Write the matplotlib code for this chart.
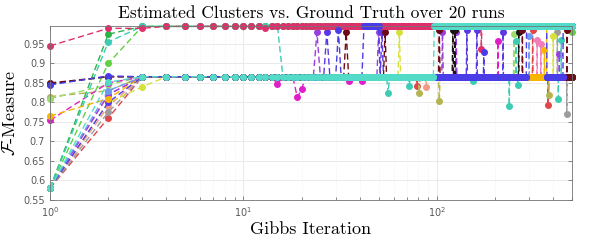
import numpy as np
import matplotlib
matplotlib.use('Agg')
import matplotlib.pyplot as plt
from matplotlib.ticker import FixedLocator, LogLocator, NullFormatter

# data
n_iter = 500
hi = 0.995
lo = 0.866

run_colors = ['#F09A88', '#E0454A', '#9C9C9C', '#B4B450', '#9ADC6E',
              '#D6E03C', '#F07CB8', '#E01EC8', '#9A3EE0', '#5A38E6',
              '#6C9CF0', '#1C1414', '#60D040', '#2DB34A', '#3CCCB4',
              '#6E0A16', '#F7B500', '#E0306C', '#4A3CE6', '#52DCC8']

# values at the first iterations
run_start = [[0.58, 0.79], [0.58, 0.76], [0.58, 0.775], [0.815, 0.83], [0.81, 0.845],
             [0.58, 0.80, 0.84], [0.58, 0.82], [0.754, 0.85], [0.58, 0.82], [0.58, 0.80],
             [0.58, 0.83], [0.848, 0.866], [0.58, 0.90, 0.995], [0.58, 0.975, 0.995], [0.58, 0.955],
             [0.85, 0.866], [0.765, 0.81], [0.945, 0.99, 0.99], [0.845, 0.868], [0.58, 0.852]]

# (iteration, value) where a run settles on a new level
run_levels = [[(3, lo)], [(3, lo)], [(3, lo)], [(3, lo)], [(3, lo)],
              [(4, lo)], [(3, lo)], [(3, lo)], [(3, lo)], [(3, lo)],
              [(3, lo)], [(3, lo)], [(4, hi)], [(4, hi)], [(3, hi), (16, lo)],
              [(3, lo)], [(3, lo), (370, hi)], [(4, hi)],
              [(3, lo), (42, hi), (51, lo), (291, hi), (371, lo), (450, hi)],
              [(3, lo), (97, hi)]]

# (iteration, value) single-iteration excursions
run_spikes = [[(88, 0.84)],
              [(79, 0.843), (313, 0.985), (376, 0.793)],
              [(420, 0.98), (470, 0.77)],
              [(81, 0.824), (103, 0.803), (380, 0.82)],
              [(250, 0.975)],
              [(64, 0.98), (400, 0.97)],
              [(330, 0.96), (345, 0.95)],
              [(15, 0.847), (19, 0.813), (20, 0.834), (35, 0.855), (41, 0.855), (207, 0.958)],
              [(24, 0.98), (50, 0.98), (107, 0.98), (126, 0.98), (430, 0.925)],
              [(27, 0.98), (52, 0.98), (143, 0.985), (161, 0.985), (220, 0.98)],
              [(300, 0.97)],
              [(121, 0.985), (124, 0.985), (265, 0.98)],
              [(498, 0.98)],
              [(13, 0.995)],
              [(56, 0.824), (72, 0.843), (153, 0.855), (237, 0.79), (257, 0.958), (262, 0.844), (425, 0.81), (440, 0.96)],
              [(34, 0.98), (54, 0.98), (103, 0.985), (277, 0.985), (470, 0.985)],
              [(360, 0.935)],
              [(13, 0.99), (170, 0.937)],
              [(31, 0.985), (175, 0.93)],
              []]

y_ticks = [0.55, 0.6, 0.65, 0.7, 0.75, 0.8, 0.85, 0.9, 0.95]
y_ticklabels = ['0.55', '0.6', '0.65', '0.7', '0.75', '0.8', '0.85', '0.9', '0.95']

iters = np.arange(1, n_iter + 1)

fig = plt.figure(figsize=(5.98, 2.4), dpi=100)
ax = fig.add_axes([50 / 598, 1 - 200 / 240, 522 / 598, 174 / 240])

for c, start, levels, spikes in zip(run_colors, run_start, run_levels, run_spikes):
    y = np.empty(n_iter)
    for it, v in levels:
        y[it - 1:] = v
    y[:len(start)] = start
    for it, v in spikes:
        y[it - 1] = v
    ax.plot(iters, y, '--o', color=c, lw=1.0, dashes=(4.5, 2.5), ms=4,
            mec=c, mfc=c, clip_on=False)

ax.set_xscale('log')
ax.set_xlim(1, n_iter)
ax.set_ylim(0.55, 0.996)
ax.yaxis.set_major_locator(FixedLocator(y_ticks))
ax.set_yticklabels(y_ticklabels)
ax.xaxis.set_major_locator(FixedLocator([1, 10, 100]))
ax.set_xticklabels([r'$10^{0}$', r'$10^{1}$', r'$10^{2}$'])
ax.xaxis.set_minor_locator(LogLocator(base=10, subs=np.arange(2, 10)))
ax.xaxis.set_minor_formatter(NullFormatter())

ax.grid(True, which='major', color='0.9', lw=0.6)
ax.grid(True, which='minor', axis='x', color='0.92', lw=0.5, ls=':')
ax.set_axisbelow(True)
ax.tick_params(which='both', direction='in', top=True, right=True,
               labelsize=7, colors='0.35', length=3, width=0.5)
ax.tick_params(which='minor', length=2)
for s in ax.spines.values():
    s.set_color('0.45')
    s.set_linewidth(0.6)

ax.set_title('Estimated Clusters vs. Ground Truth over 20 runs',
             fontfamily='cmr10', fontsize=12.5, pad=6)
ax.set_xlabel('Gibbs Iteration', fontfamily='cmr10', fontsize=13, labelpad=2)
ax.set_ylabel(r'$\mathcal{F}$-Measure', fontfamily='cmr10', math_fontfamily='cm',
              fontsize=13, labelpad=4)

fig.savefig('out.png', dpi=100)
